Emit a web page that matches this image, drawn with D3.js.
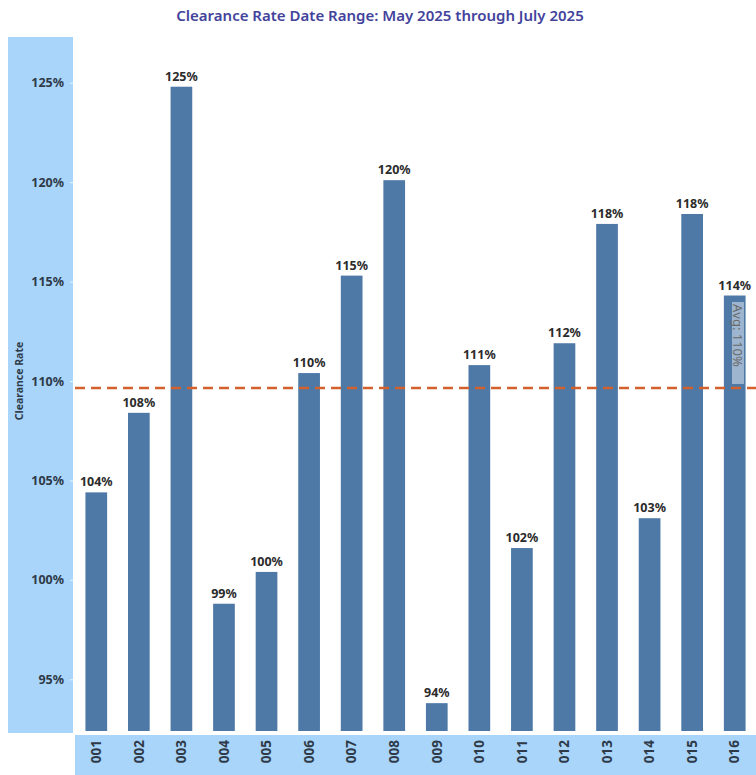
<!DOCTYPE html>
<html>
<head>
<meta charset="utf-8">
<script src="https://cdn.jsdelivr.net/npm/d3@7"></script>
<style>
  body { margin: 0; background: #fff; }
  text { font-family: "Noto Sans", "DejaVu Sans", sans-serif; }
</style>
</head>
<body>
<div id="chart"></div>
<script>
// data
var units = ["001", "002", "003", "004", "005", "006", "007", "008",
             "009", "010", "011", "012", "013", "014", "015", "016"];
var rates = [104.4, 108.4, 124.8, 98.8, 100.4, 110.4, 115.3, 120.1,
             93.8, 110.8, 101.6, 111.9, 117.9, 103.1, 118.4, 114.3];
var yTicks = [95, 100, 105, 110, 115, 120, 125];
var chartTitle = "Clearance Rate Date Range: May 2025 through July 2025";

function init() {
    var w = 756;
    var h = 775;
    var left = 75, right = 756, top = 37, bottom = 731;

    var svg = d3.select("#chart")
        .append("svg")
        .attr("width", w)
        .attr("height", h);

    var x = d3.scaleBand()
        .domain(units)
        .range([left, right])
        .paddingInner(0.49)
        .paddingOuter(0.245);

    var y = d3.scaleLinear()
        .domain([92.4, 127.3])
        .range([bottom, top]);

    // title
    svg.append("text")
        .attr("x", 380)
        .attr("y", 21)
        .attr("text-anchor", "middle")
        .attr("font-size", "15px")
        .attr("font-weight", "600")
        .attr("fill", "#43439c")
        .text(chartTitle);

    // y axis panel
    svg.append("rect")
        .attr("x", 8).attr("y", top)
        .attr("width", 65).attr("height", bottom - top + 2)
        .attr("fill", "#a9d5fb");

    // x axis band
    svg.append("rect")
        .attr("x", left).attr("y", 735)
        .attr("width", right - left).attr("height", 40)
        .attr("fill", "#a9d5fb");

    var yAxis = svg.append("g")
        .attr("transform", "translate(" + (left - 2) + ",0)")
        .call(d3.axisLeft(y).tickValues(yTicks).tickSize(3).tickPadding(6)
            .tickFormat(function (d) { return d + "%"; }));
    yAxis.select(".domain").remove();
    yAxis.selectAll("line").attr("stroke", "#e8f4fe");
    yAxis.selectAll("text")
        .attr("font-size", "12.5px")
        .attr("font-weight", "bold")
        .attr("fill", "#2e3a48")
        .attr("font-family", "'Noto Sans', sans-serif");

    svg.append("text")
        .attr("transform", "translate(23," + y(110) + ") rotate(-90)")
        .attr("text-anchor", "middle")
        .attr("font-size", "10.5px")
        .attr("font-weight", "bold")
        .attr("fill", "#2e3a48")
        .text("Clearance Rate");

    // x axis
    var xAxis = svg.append("g")
        .attr("transform", "translate(0,735)")
        .call(d3.axisBottom(x).tickSize(0).tickPadding(0));
    xAxis.select(".domain").remove();
    xAxis.selectAll("text")
        .attr("transform", "rotate(-90)")
        .attr("x", -5)
        .attr("y", 0)
        .attr("dy", "0.35em")
        .attr("text-anchor", "end")
        .attr("font-size", "13.5px")
        .attr("font-weight", "bold")
        .attr("fill", "#2e3a48")
        .attr("font-family", "'Noto Sans', sans-serif");

    // bars
    svg.selectAll("rect.bar")
        .data(rates)
        .enter()
        .append("rect")
        .attr("class", "bar")
        .attr("x", function (d, i) { return x(units[i]); })
        .attr("y", function (d) { return y(d); })
        .attr("width", x.bandwidth())
        .attr("height", function (d) { return bottom - y(d); })
        .attr("fill", "#4e79a7");

    svg.selectAll("text.val")
        .data(rates)
        .enter()
        .append("text")
        .attr("class", "val")
        .attr("x", function (d, i) { return x(units[i]) + x.bandwidth() / 2; })
        .attr("y", function (d) { return y(d) - 6; })
        .attr("text-anchor", "middle")
        .attr("font-size", "12.5px")
        .attr("font-weight", "bold")
        .attr("fill", "#2b2b2b")
        .text(function (d) { return Math.round(d) + "%"; });

    // average reference line
    var avg = d3.mean(rates);
    svg.append("line")
        .attr("x1", left).attr("x2", right)
        .attr("y1", y(avg)).attr("y2", y(avg))
        .attr("stroke", "#d5612a")
        .attr("stroke-width", 2.5)
        .attr("stroke-dasharray", "10,6");

    var lx = 738, ly = y(avg) - 4;
    svg.append("rect")
        .attr("x", lx - 6).attr("y", ly - 82)
        .attr("width", 12).attr("height", 82)
        .attr("fill", "#ffffff").attr("opacity", 0.45);
    svg.append("text")
        .attr("transform", "translate(" + lx + "," + (ly - 80) + ") rotate(90)")
        .attr("dy", "0.35em")
        .attr("font-size", "13px")
        .attr("fill", "#6a6a6a")
        .text("Avg: " + Math.round(avg) + "%");
}

window.onload = init;
</script>
</body>
</html>
